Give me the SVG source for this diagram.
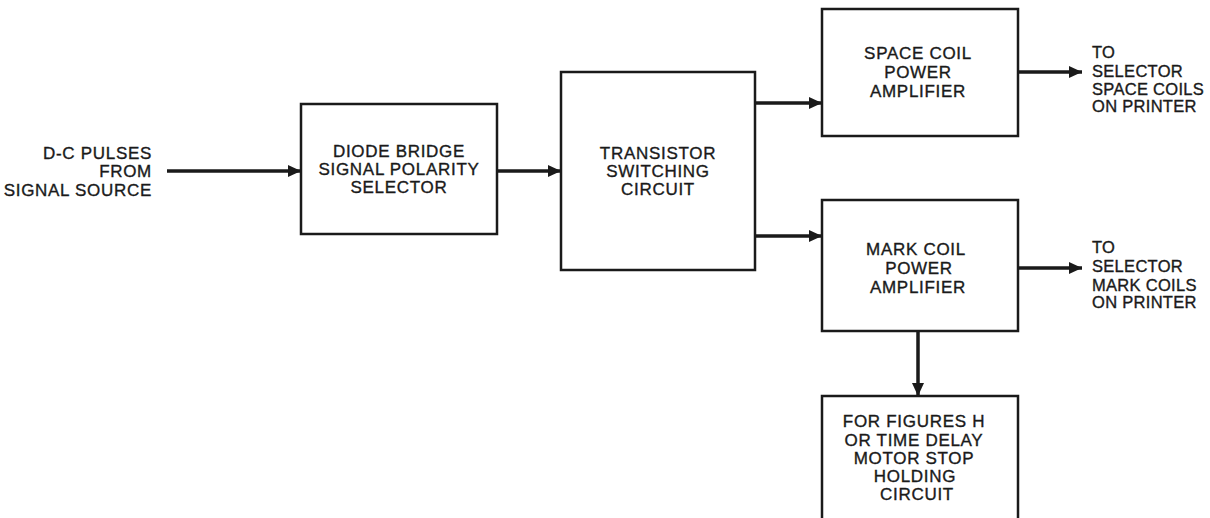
<svg xmlns="http://www.w3.org/2000/svg" width="1210" height="518" viewBox="0 0 1210 518">
  <style>
    .box { fill: #ffffff; stroke: #1a1a1a; stroke-width: 2.5; }
    .wire { fill: none; stroke: #1a1a1a; stroke-width: 3.5; }
    text { font-family: "Liberation Sans", Arial, sans-serif; font-size: 17px; fill: #1a1a1a; stroke: #1a1a1a; stroke-width: 0.35; letter-spacing: 0.7px; }
    .c { text-anchor: middle; }
    .r { text-anchor: end; }
    .out { font-size: 16.5px; letter-spacing: 0.3px; }
  </style>
  <defs>
    <marker id="arrow" markerUnits="userSpaceOnUse" markerWidth="13" markerHeight="12" refX="13" refY="6" orient="auto">
      <path d="M0,0 L13,6 L0,12 Z" fill="#1a1a1a"/>
    </marker>
  </defs>
  <rect width="1210" height="518" fill="#ffffff"/>

  <g id="input-label">
    <text class="r" x="152" y="159">D-C PULSES</text>
    <text class="r" x="152" y="177">FROM</text>
    <text class="r" x="152" y="196">SIGNAL SOURCE</text>
  </g>

  <g id="diode-bridge">
    <rect class="box" x="301" y="104" width="196" height="130"/>
    <text class="c" x="399" y="157">DIODE BRIDGE</text>
    <text class="c" x="399" y="175">SIGNAL POLARITY</text>
    <text class="c" x="399" y="193">SELECTOR</text>
  </g>

  <g id="transistor-switching">
    <rect class="box" x="561" y="72" width="194" height="198"/>
    <text class="c" x="658" y="159">TRANSISTOR</text>
    <text class="c" x="658" y="177">SWITCHING</text>
    <text class="c" x="658" y="195">CIRCUIT</text>
  </g>

  <g id="space-coil-amp">
    <rect class="box" x="822" y="9" width="196" height="127"/>
    <text class="c" x="918" y="59">SPACE COIL</text>
    <text class="c" x="918" y="78">POWER</text>
    <text class="c" x="918" y="97">AMPLIFIER</text>
  </g>

  <g id="mark-coil-amp">
    <rect class="box" x="822" y="200" width="196" height="131"/>
    <text class="c" x="916" y="255">MARK COIL</text>
    <text class="c" x="919" y="274">POWER</text>
    <text class="c" x="918" y="293">AMPLIFIER</text>
  </g>

  <g id="holding-circuit">
    <rect class="box" x="822" y="396" width="196" height="140"/>
    <text class="c" x="914" y="427">FOR FIGURES H</text>
    <text class="c" x="914" y="446">OR TIME DELAY</text>
    <text class="c" x="914" y="464">MOTOR STOP</text>
    <text class="c" x="915" y="482">HOLDING</text>
    <text class="c" x="917" y="500">CIRCUIT</text>
  </g>

  <g id="space-output-label">
    <text class="out" x="1092" y="58">TO</text>
    <text class="out" x="1092" y="77">SELECTOR</text>
    <text class="out" x="1092" y="95">SPACE COILS</text>
    <text class="out" x="1092" y="112">ON PRINTER</text>
  </g>

  <g id="mark-output-label">
    <text class="out" x="1092" y="253">TO</text>
    <text class="out" x="1092" y="272">SELECTOR</text>
    <text class="out" x="1092" y="291">MARK COILS</text>
    <text class="out" x="1092" y="308">ON PRINTER</text>
  </g>

  <g id="connectors">
    <line class="wire" x1="167" y1="171" x2="301" y2="171" marker-end="url(#arrow)"/>
    <line class="wire" x1="497" y1="171" x2="561" y2="171" marker-end="url(#arrow)"/>
    <line class="wire" x1="755" y1="103" x2="822" y2="103" marker-end="url(#arrow)"/>
    <line class="wire" x1="755" y1="236" x2="822" y2="236" marker-end="url(#arrow)"/>
    <line class="wire" x1="1018" y1="72" x2="1082" y2="72" marker-end="url(#arrow)"/>
    <line class="wire" x1="1018" y1="268" x2="1082" y2="268" marker-end="url(#arrow)"/>
    <line class="wire" x1="918" y1="331" x2="918" y2="396" marker-end="url(#arrow)"/>
  </g>
</svg>
